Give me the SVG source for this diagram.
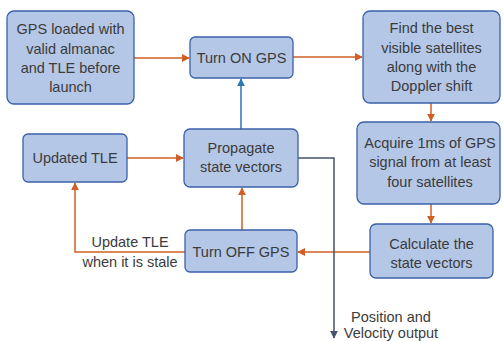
<svg xmlns="http://www.w3.org/2000/svg" width="503" height="341" viewBox="0 0 503 341">
<style>
.box{fill:#b4c7e7;stroke:#3a62a8;stroke-width:1.3}
.t{font-family:"Liberation Sans",Arial,sans-serif;font-size:14.5px;fill:#3b3b3b;text-anchor:middle}
.o{fill:none;stroke:#cf5f26;stroke-width:1.5}
.b{fill:none;stroke:#2e75b6;stroke-width:1.5}
.s{fill:none;stroke:#44546a;stroke-width:1.5}
</style>
<defs>
<marker id="ao" viewBox="0 0 10 10" refX="9" refY="5" markerWidth="8" markerHeight="8" markerUnits="userSpaceOnUse" orient="auto"><path d="M0,0 L10,5 L0,10 z" fill="#cf5f26"/></marker>
<marker id="ab" viewBox="0 0 10 10" refX="9" refY="5" markerWidth="8" markerHeight="8" markerUnits="userSpaceOnUse" orient="auto"><path d="M0,0 L10,5 L0,10 z" fill="#2e75b6"/></marker>
<marker id="as" viewBox="0 0 10 10" refX="9" refY="5" markerWidth="8" markerHeight="8" markerUnits="userSpaceOnUse" orient="auto"><path d="M0,0 L10,5 L0,10 z" fill="#44546a"/></marker>
</defs>
<rect width="503" height="341" fill="#ffffff"/>
<g id="connectors">
<line class="o" x1="134" y1="58" x2="189" y2="58" marker-end="url(#ao)"/>
<line class="o" x1="293" y1="57" x2="362" y2="57" marker-end="url(#ao)"/>
<line class="o" x1="431" y1="103" x2="431" y2="121" marker-end="url(#ao)"/>
<line class="o" x1="431" y1="204" x2="431" y2="223" marker-end="url(#ao)"/>
<line class="o" x1="370" y1="252" x2="298" y2="252" marker-end="url(#ao)"/>
<line class="o" x1="242" y1="230" x2="242" y2="188" marker-end="url(#ao)"/>
<line class="b" x1="241" y1="129" x2="241" y2="79" marker-end="url(#ab)"/>
<line class="o" x1="127" y1="158" x2="183" y2="158" marker-end="url(#ao)"/>
<polyline class="o" points="185,252 75,252 75,183" marker-end="url(#ao)"/>
<polyline class="s" points="298,158 334,158 334,338" marker-end="url(#as)"/>
<text class="t" x="130" y="247">Update TLE</text>
<text class="t" x="130" y="267">when it is stale</text>
<text class="t" x="391" y="322">Position and</text>
<text class="t" x="391" y="338">Velocity output</text>
</g>
<g id="gps-loaded">
<rect class="box" x="7" y="11" width="127" height="93" rx="7"/>
<text class="t" x="70.5" y="34">GPS loaded with</text>
<text class="t" x="70.5" y="54">valid almanac</text>
<text class="t" x="70.5" y="73">and TLE before</text>
<text class="t" x="70.5" y="92">launch</text>
</g>
<g id="turn-on">
<rect class="box" x="190" y="37" width="103" height="41" rx="5"/>
<text class="t" x="241.5" y="63">Turn ON GPS</text>
</g>
<g id="find-best">
<rect class="box" x="363" y="11" width="137" height="92" rx="7"/>
<text class="t" x="431.5" y="33">Find the best</text>
<text class="t" x="431.5" y="53">visible satellites</text>
<text class="t" x="431.5" y="72">along with the</text>
<text class="t" x="431.5" y="91">Doppler shift</text>
</g>
<g id="acquire">
<rect class="box" x="357" y="122" width="143" height="82" rx="7"/>
<text class="t" x="430" y="148">Acquire 1ms of GPS</text>
<text class="t" x="430" y="167">signal from at least</text>
<text class="t" x="430" y="187">four satellites</text>
</g>
<g id="calculate">
<rect class="box" x="370" y="224" width="123" height="54" rx="6"/>
<text class="t" x="431.5" y="249">Calculate the</text>
<text class="t" x="431.5" y="268">state vectors</text>
</g>
<g id="turn-off">
<rect class="box" x="185" y="230" width="112" height="42" rx="5"/>
<text class="t" x="241" y="257">Turn OFF GPS</text>
</g>
<g id="propagate">
<rect class="box" x="184" y="129" width="114" height="58" rx="6"/>
<text class="t" x="241" y="153">Propagate</text>
<text class="t" x="241" y="172">state vectors</text>
</g>
<g id="updated-tle">
<rect class="box" x="23" y="134" width="104" height="48" rx="5"/>
<text class="t" x="75" y="163">Updated TLE</text>
</g>
</svg>
